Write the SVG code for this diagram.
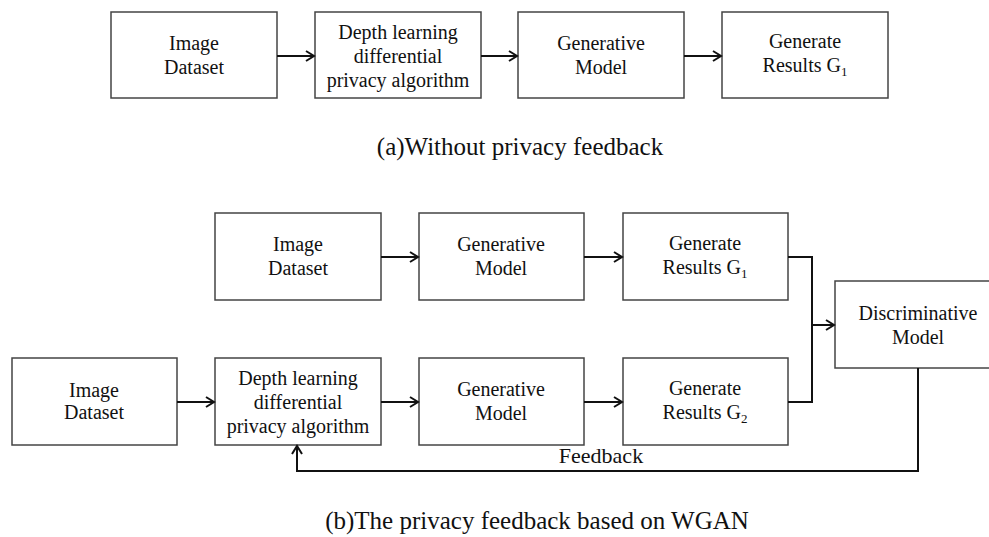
<svg xmlns="http://www.w3.org/2000/svg" width="989" height="537" viewBox="0 0 989 537">
<defs>
<marker id="arr" markerWidth="12" markerHeight="12" refX="10" refY="6" orient="auto" markerUnits="userSpaceOnUse">
<path d="M2,1 L10,6 L2,11" fill="none" stroke="#111" stroke-width="2"/>
</marker>
<style>
.box{fill:#fff;stroke:#444;stroke-width:1.5}
.t{font-family:"Liberation Serif","Times New Roman",serif;font-size:20px;fill:#111;text-anchor:middle}
.cap{font-family:"Liberation Serif","Times New Roman",serif;font-size:25px;fill:#111;text-anchor:middle}
.c{fill:none;stroke:#111;stroke-width:2}
.s{font-size:13px}
</style>
</defs>
<rect width="989" height="537" fill="#fff"/>

<g id="a_image"><rect class="box" x="111" y="12" width="166" height="86"/>
<text class="t" x="194" y="50">Image</text><text class="t" x="194" y="74">Dataset</text></g>
<g id="a_dp"><rect class="box" x="315" y="12" width="166" height="86"/>
<text class="t" x="398" y="39">Depth learning</text><text class="t" x="398" y="63">differential</text><text class="t" x="398" y="87">privacy algorithm</text></g>
<g id="a_gen"><rect class="box" x="518" y="12" width="166" height="86"/>
<text class="t" x="601" y="50">Generative</text><text class="t" x="601" y="74">Model</text></g>
<g id="a_res"><rect class="box" x="722" y="12" width="166" height="86"/>
<text class="t" x="805" y="48">Generate</text><text class="t" x="805" y="72">Results G<tspan class="s" dy="4">1</tspan></text></g>
<text class="cap" x="520" y="155">(a)Without privacy feedback</text>

<g id="b_image1"><rect class="box" x="215" y="213" width="166" height="87"/>
<text class="t" x="298" y="251">Image</text><text class="t" x="298" y="275">Dataset</text></g>
<g id="b_gen1"><rect class="box" x="419" y="213" width="165" height="87"/>
<text class="t" x="501" y="251">Generative</text><text class="t" x="501" y="275">Model</text></g>
<g id="b_res1"><rect class="box" x="623" y="213" width="165" height="87"/>
<text class="t" x="705" y="250">Generate</text><text class="t" x="705" y="274">Results G<tspan class="s" dy="4">1</tspan></text></g>
<g id="b_disc"><rect class="box" x="835" y="281" width="160" height="87"/>
<text class="t" x="918" y="320">Discriminative</text><text class="t" x="918" y="344">Model</text></g>
<g id="b_image2"><rect class="box" x="12" y="358" width="165" height="87"/>
<text class="t" x="94" y="397">Image</text><text class="t" x="94" y="419">Dataset</text></g>
<g id="b_dp"><rect class="box" x="215" y="358" width="166" height="87"/>
<text class="t" x="298" y="385">Depth learning</text><text class="t" x="298" y="409">differential</text><text class="t" x="298" y="433">privacy algorithm</text></g>
<g id="b_gen2"><rect class="box" x="419" y="358" width="165" height="87"/>
<text class="t" x="501" y="396">Generative</text><text class="t" x="501" y="420">Model</text></g>
<g id="b_res2"><rect class="box" x="623" y="358" width="165" height="87"/>
<text class="t" x="705" y="395">Generate</text><text class="t" x="705" y="419">Results G<tspan class="s" dy="4">2</tspan></text></g>

<g id="connectors">
<line class="c" x1="277" y1="56" x2="314" y2="56" marker-end="url(#arr)"/>
<line class="c" x1="481" y1="56" x2="517" y2="56" marker-end="url(#arr)"/>
<line class="c" x1="684" y1="56" x2="721" y2="56" marker-end="url(#arr)"/>
<line class="c" x1="381" y1="257" x2="418" y2="257" marker-end="url(#arr)"/>
<line class="c" x1="584" y1="257" x2="622" y2="257" marker-end="url(#arr)"/>
<line class="c" x1="177" y1="402" x2="214" y2="402" marker-end="url(#arr)"/>
<line class="c" x1="381" y1="402" x2="418" y2="402" marker-end="url(#arr)"/>
<line class="c" x1="584" y1="402" x2="622" y2="402" marker-end="url(#arr)"/>
<polyline class="c" points="788,257 812,257 812,402 788,402"/>
<line class="c" x1="812" y1="325" x2="834" y2="325" marker-end="url(#arr)"/>
<polyline class="c" points="918,368 918,471 297,471 297,446" marker-end="url(#arr)"/>
</g>
<text class="t" x="601" y="463" style="font-size:22px">Feedback</text>
<text class="cap" x="537" y="529">(b)The privacy feedback based on WGAN</text>
</svg>
